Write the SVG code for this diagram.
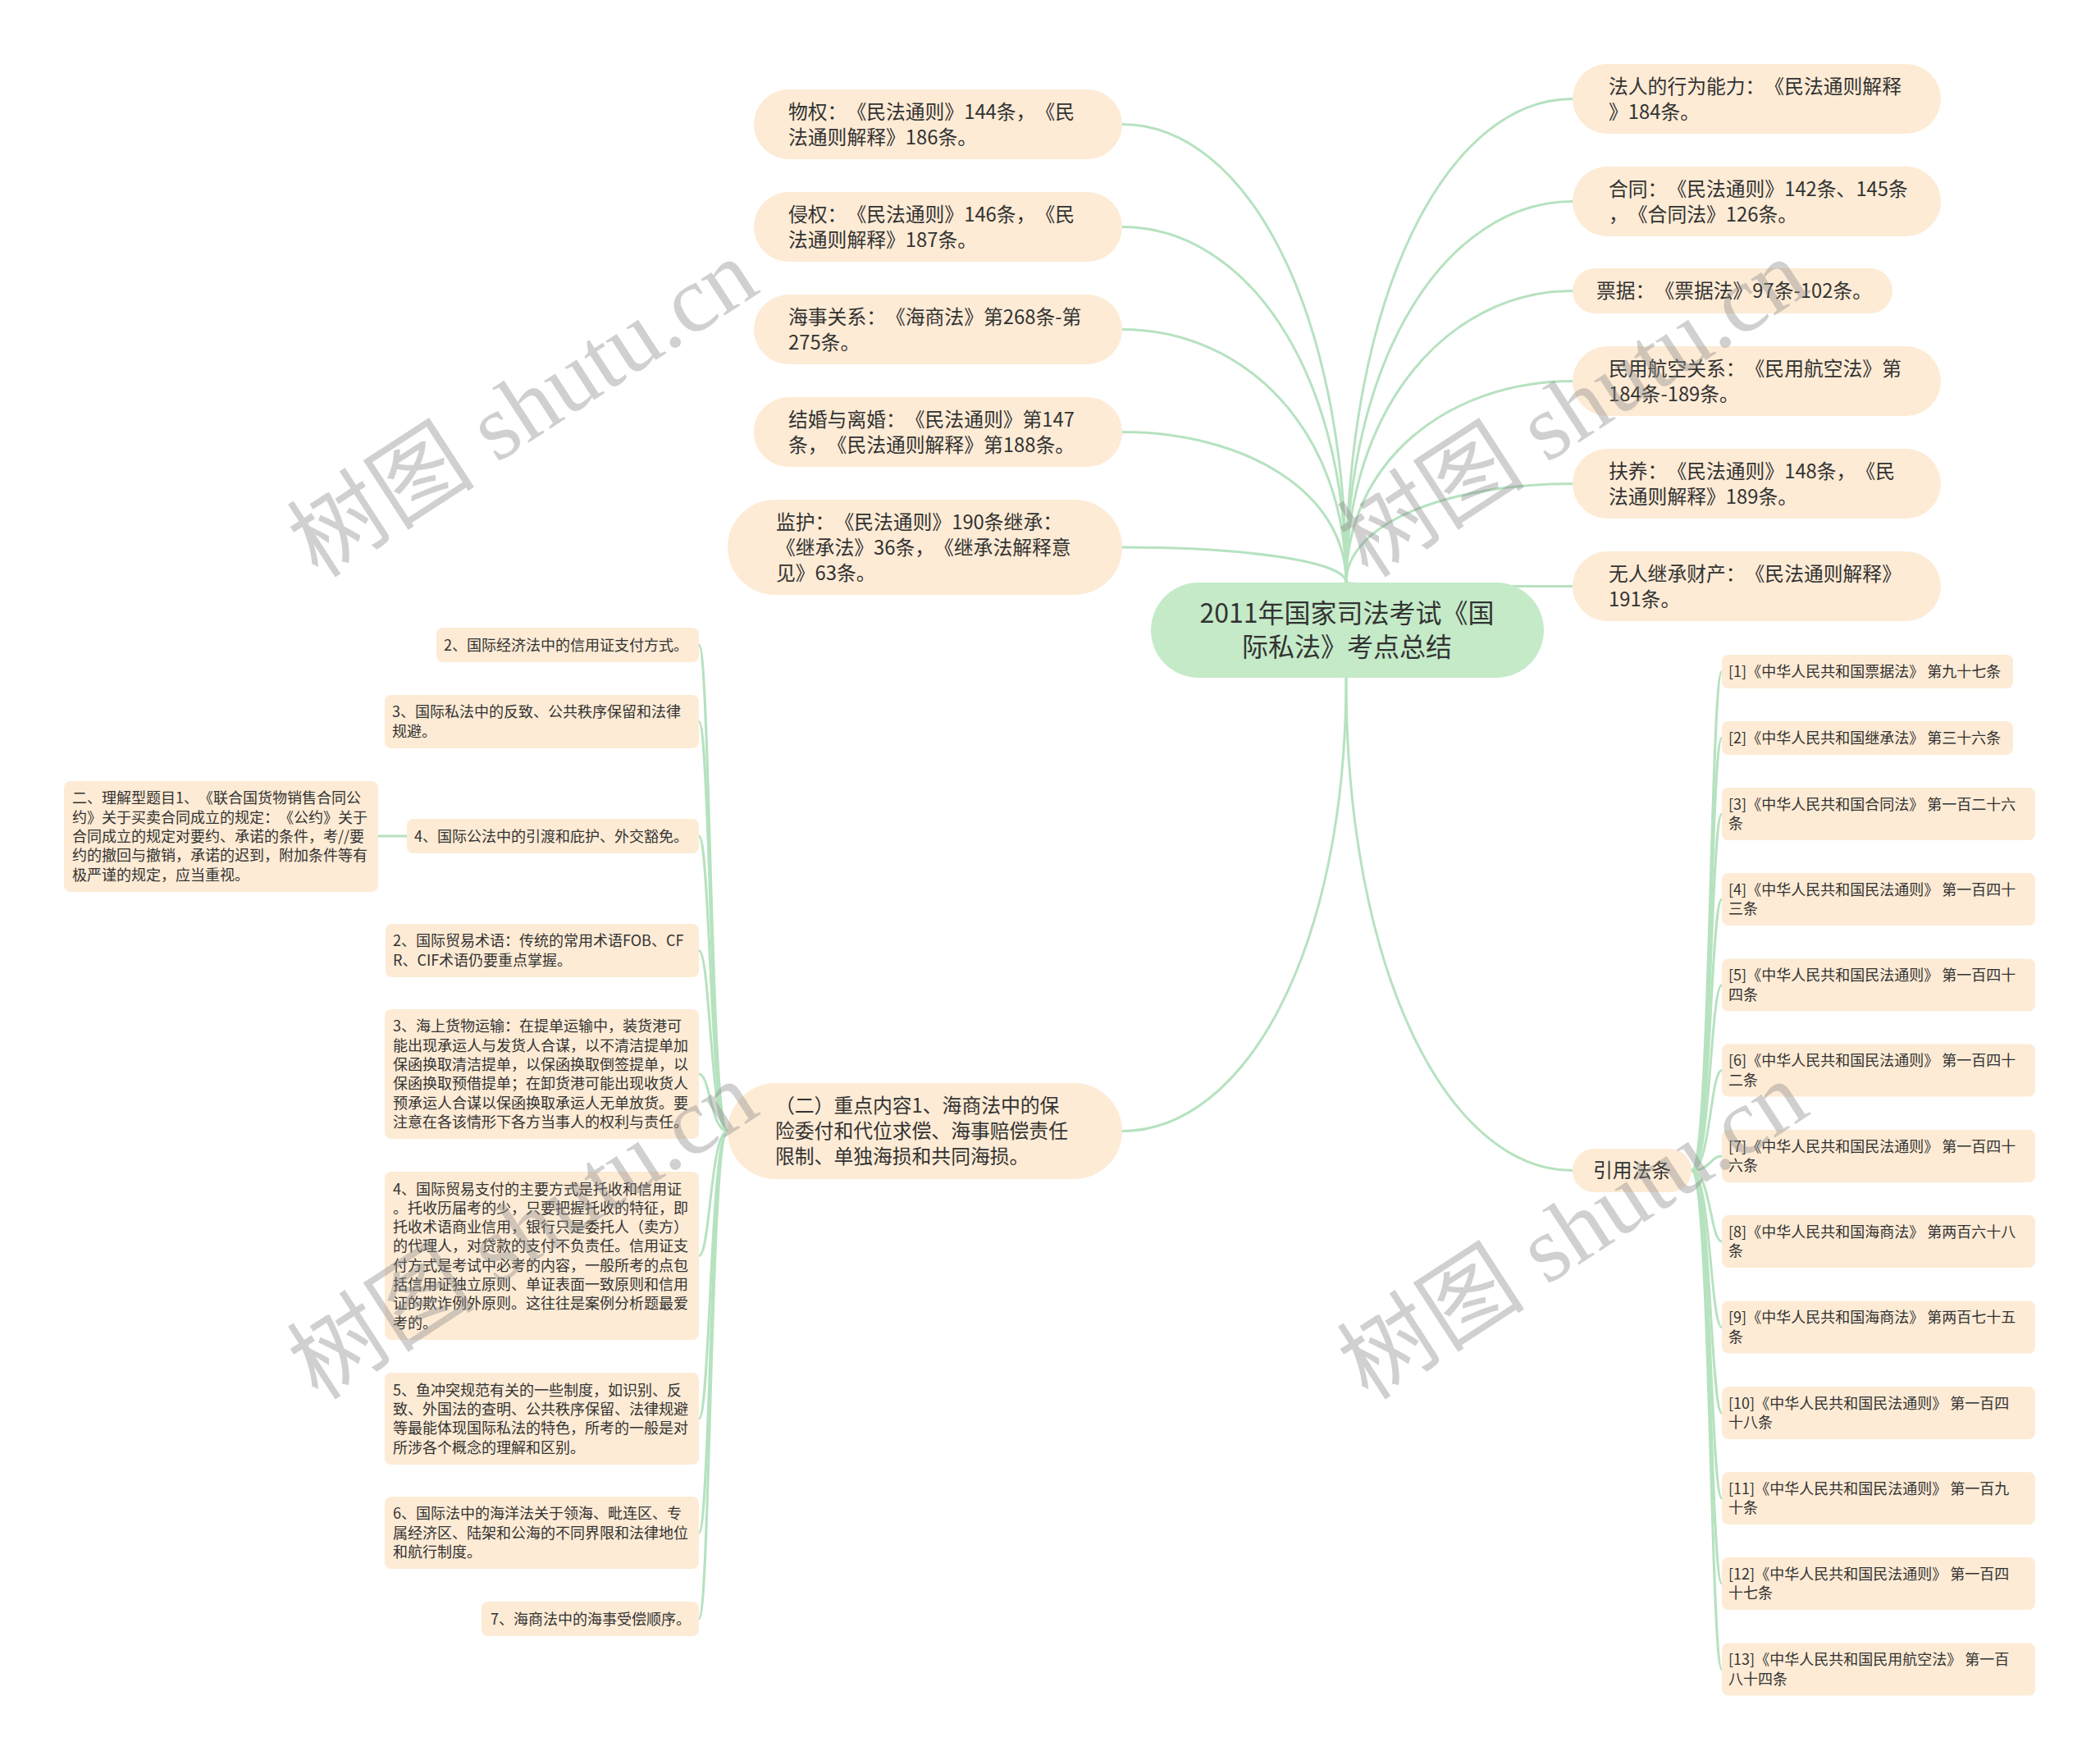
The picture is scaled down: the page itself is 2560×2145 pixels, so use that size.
<svg xmlns="http://www.w3.org/2000/svg" width="2560" height="2145" viewBox="0 0 2560 2145">
<style>
.bg{fill:#ffffff}
.n{fill:#fdebd5}
.c{fill:#c4eac8}
.e{fill:none;stroke:#b6e2bf;stroke-width:3}
text{text-spacing-trim:space-all}
.t{font-family:"Noto Sans CJK SC","Noto Sans",sans-serif;font-size:23.8px;fill:#333333}
.s{font-family:"Noto Sans CJK SC","Noto Sans",sans-serif;font-size:18px;fill:#333333}
.ct{font-family:"Noto Sans CJK SC","Noto Sans",sans-serif;font-size:32px;fill:#333333;text-anchor:middle}
.w{font-size:115px;fill:#8a8a8a;fill-opacity:0.4}
.wc{font-family:"Noto Sans CJK SC",sans-serif}
.wl{font-family:"Liberation Serif",serif}
</style>
<rect class="bg" x="0" y="0" width="2560" height="2145"/>
<g id="connectors">
<path class="e" d="M1641,710 C1641,374.9 1518,151.5 1368,151.5"/>
<path class="e" d="M1641,710 C1641,449.9 1518,276.5 1368,276.5"/>
<path class="e" d="M1641,710 C1641,524.9 1518,401.5 1368,401.5"/>
<path class="e" d="M1641,710 C1641,599.9 1518,526.5 1368,526.5"/>
<path class="e" d="M1641,710 C1641,684.2 1518,667 1368,667"/>
<path class="e" d="M1641,710 C1641,356.3 1765,120.5 1917,120.5"/>
<path class="e" d="M1641,710 C1641,431.3 1765,245.5 1917,245.5"/>
<path class="e" d="M1641,710 C1641,496.7 1765,354.5 1917,354.5"/>
<path class="e" d="M1641,710 C1641,562.7 1765,464.5 1917,464.5"/>
<path class="e" d="M1641,710 C1641,637.7 1765,589.5 1917,589.5"/>
<path class="e" d="M1641,710 C1641,712.7 1765,714.5 1917,714.5"/>
<path class="e" d="M1641,826 C1641,1157.5 1518,1378.5 1368,1378.5"/>
<path class="e" d="M1641,826 C1641,1186 1766,1426.5 1917,1426.5"/>
<path class="e" d="M887,1378.5 C866,1378.5 866,786 852,786"/>
<path class="e" d="M887,1378.5 C866,1378.5 866,879.5 852,879.5"/>
<path class="e" d="M887,1378.5 C866,1378.5 866,1019 852,1019"/>
<path class="e" d="M887,1378.5 C866,1378.5 866,1158.5 852,1158.5"/>
<path class="e" d="M887,1378.5 C866,1378.5 866,1309 852,1309"/>
<path class="e" d="M887,1378.5 C866,1378.5 866,1530.5 852,1530.5"/>
<path class="e" d="M887,1378.5 C866,1378.5 866,1729 852,1729"/>
<path class="e" d="M887,1378.5 C866,1378.5 866,1868 852,1868"/>
<path class="e" d="M887,1378.5 C866,1378.5 866,1973 852,1973"/>
<path class="e" d="M496,1019 L461,1019"/>
<path class="e" d="M2062,1426.5 C2085,1426.5 2085,818.5 2099,818.5"/>
<path class="e" d="M2062,1426.5 C2085,1426.5 2085,899.5 2099,899.5"/>
<path class="e" d="M2062,1426.5 C2085,1426.5 2085,992 2099,992"/>
<path class="e" d="M2062,1426.5 C2085,1426.5 2085,1096 2099,1096"/>
<path class="e" d="M2062,1426.5 C2085,1426.5 2085,1200.5 2099,1200.5"/>
<path class="e" d="M2062,1426.5 C2085,1426.5 2085,1304.5 2099,1304.5"/>
<path class="e" d="M2062,1426.5 C2085,1426.5 2085,1409 2099,1409"/>
<path class="e" d="M2062,1426.5 C2085,1426.5 2085,1513 2099,1513"/>
<path class="e" d="M2062,1426.5 C2085,1426.5 2085,1617.5 2099,1617.5"/>
<path class="e" d="M2062,1426.5 C2085,1426.5 2085,1722 2099,1722"/>
<path class="e" d="M2062,1426.5 C2085,1426.5 2085,1826 2099,1826"/>
<path class="e" d="M2062,1426.5 C2085,1426.5 2085,1930 2099,1930"/>
<path class="e" d="M2062,1426.5 C2085,1426.5 2085,2034.5 2099,2034.5"/>
</g>

<g id="root">
<rect class="c" x="1403" y="710" width="479" height="116" rx="58"/>
<text class="ct" x="1642" y="759">2011年国家司法考试《国</text>
<text class="ct" x="1642" y="800">际私法》考点总结</text>
</g>

<g id="n-wuquan">
<rect class="n" x="919" y="109" width="449" height="85" rx="42.5"/>
<text class="t" x="961" y="144.5">物权：《民法通则》144条，《民</text>
<text class="t" x="961" y="175.5">法通则解释》186条。</text>
</g>
<g id="n-qinquan">
<rect class="n" x="919" y="234" width="449" height="85" rx="42.5"/>
<text class="t" x="961" y="269.5">侵权：《民法通则》146条，《民</text>
<text class="t" x="961" y="300.5">法通则解释》187条。</text>
</g>
<g id="n-haishi">
<rect class="n" x="919" y="359" width="449" height="85" rx="42.5"/>
<text class="t" x="961" y="394.5">海事关系：《海商法》第268条-第</text>
<text class="t" x="961" y="425.5">275条。</text>
</g>
<g id="n-jiehun">
<rect class="n" x="919" y="484" width="449" height="85" rx="42.5"/>
<text class="t" x="961" y="519.5">结婚与离婚：《民法通则》第147</text>
<text class="t" x="961" y="550.5">条，《民法通则解释》第188条。</text>
</g>
<g id="n-jianhu">
<rect class="n" x="887" y="609" width="481" height="116" rx="58"/>
<text class="t" x="946" y="644.5">监护：《民法通则》190条继承：</text>
<text class="t" x="946" y="675.5">《继承法》36条，《继承法解释意</text>
<text class="t" x="946" y="706.5">见》63条。</text>
</g>

<g id="n-faren">
<rect class="n" x="1917" y="78" width="449" height="85" rx="42.5"/>
<text class="t" x="1961" y="113.5">法人的行为能力：《民法通则解释</text>
<text class="t" x="1961" y="144.5">》184条。</text>
</g>
<g id="n-hetong">
<rect class="n" x="1917" y="203" width="449" height="85" rx="42.5"/>
<text class="t" x="1961" y="238.5">合同：《民法通则》142条、145条</text>
<text class="t" x="1961" y="269.5">，《合同法》126条。</text>
</g>
<g id="n-piaoju">
<rect class="n" x="1917" y="327" width="390" height="55" rx="27.5"/>
<text class="t" x="1946" y="363">票据：《票据法》97条-102条。</text>
</g>
<g id="n-minhang">
<rect class="n" x="1917" y="422" width="449" height="85" rx="42.5"/>
<text class="t" x="1961" y="457.5">民用航空关系：《民用航空法》第</text>
<text class="t" x="1961" y="488.5">184条-189条。</text>
</g>
<g id="n-fuyang">
<rect class="n" x="1917" y="547" width="449" height="85" rx="42.5"/>
<text class="t" x="1961" y="582.5">扶养：《民法通则》148条，《民</text>
<text class="t" x="1961" y="613.5">法通则解释》189条。</text>
</g>
<g id="n-wuren">
<rect class="n" x="1917" y="672" width="449" height="85" rx="42.5"/>
<text class="t" x="1961" y="707.5">无人继承财产：《民法通则解释》</text>
<text class="t" x="1961" y="738.5">191条。</text>
</g>

<g id="n-zhongdian">
<rect class="n" x="887" y="1320" width="481" height="117" rx="58.5"/>
<text class="t" x="945" y="1356">（二）重点内容1、海商法中的保</text>
<text class="t" x="945" y="1387">险委付和代位求偿、海事赔偿责任</text>
<text class="t" x="945" y="1418">限制、单独海损和共同海损。</text>
</g>

<g id="n-a">
<rect class="n" x="532" y="765" width="320" height="42" rx="8"/>
<text class="s" x="541" y="792.5">2、国际经济法中的信用证支付方式。</text>
</g>
<g id="n-b">
<rect class="n" x="469" y="847" width="383" height="65" rx="8"/>
<text class="s" x="478" y="874.4">3、国际私法中的反致、公共秩序保留和法律</text>
<text class="s" x="478" y="897.7">规避。</text>
</g>
<g id="n-c">
<rect class="n" x="496" y="998" width="356" height="42" rx="8"/>
<text class="s" x="505" y="1025.5">4、国际公法中的引渡和庇护、外交豁免。</text>
</g>
<g id="n-d">
<rect class="n" x="78" y="952" width="383" height="135" rx="8"/>
<text class="s" x="88" y="979.4">二、理解型题目1、《联合国货物销售合同公</text>
<text class="s" x="88" y="1002.7">约》关于买卖合同成立的规定：《公约》关于</text>
<text class="s" x="88" y="1026">合同成立的规定对要约、承诺的条件，考//要</text>
<text class="s" x="88" y="1049.3">约的撤回与撤销，承诺的迟到，附加条件等有</text>
<text class="s" x="88" y="1072.6">极严谨的规定，应当重视。</text>
</g>
<g id="n-e">
<rect class="n" x="470" y="1126" width="382" height="65" rx="8"/>
<text class="s" x="479" y="1153.4">2、国际贸易术语：传统的常用术语FOB、CF</text>
<text class="s" x="479" y="1176.7">R、CIF术语仍要重点掌握。</text>
</g>
<g id="n-f">
<rect class="n" x="469" y="1230" width="383" height="158" rx="8"/>
<text class="s" x="479" y="1257.3">3、海上货物运输：在提单运输中，装货港可</text>
<text class="s" x="479" y="1280.6">能出现承运人与发货人合谋，以不清洁提单加</text>
<text class="s" x="479" y="1303.9">保函换取清洁提单，以保函换取倒签提单，以</text>
<text class="s" x="479" y="1327.2">保函换取预借提单；在卸货港可能出现收货人</text>
<text class="s" x="479" y="1350.5">预承运人合谋以保函换取承运人无单放货。要</text>
<text class="s" x="479" y="1373.8">注意在各该情形下各方当事人的权利与责任。</text>
</g>
<g id="n-g">
<rect class="n" x="469" y="1428" width="383" height="205" rx="8"/>
<text class="s" x="479" y="1455.5">4、国际贸易支付的主要方式是托收和信用证</text>
<text class="s" x="479" y="1478.8">。托收历届考的少，只要把握托收的特征，即</text>
<text class="s" x="479" y="1502.1">托收术语商业信用，银行只是委托人（卖方）</text>
<text class="s" x="479" y="1525.4">的代理人，对贷款的支付不负责任。信用证支</text>
<text class="s" x="479" y="1548.7">付方式是考试中必考的内容，一般所考的点包</text>
<text class="s" x="479" y="1572">括信用证独立原则、单证表面一致原则和信用</text>
<text class="s" x="479" y="1595.3">证的欺诈例外原则。这往往是案例分析题最爱</text>
<text class="s" x="479" y="1618.6">考的。</text>
</g>
<g id="n-h">
<rect class="n" x="469" y="1673" width="383" height="112" rx="8"/>
<text class="s" x="479" y="1700.6">5、鱼冲突规范有关的一些制度，如识别、反</text>
<text class="s" x="479" y="1723.9">致、外国法的查明、公共秩序保留、法律规避</text>
<text class="s" x="479" y="1747.2">等最能体现国际私法的特色，所考的一般是对</text>
<text class="s" x="479" y="1770.5">所涉各个概念的理解和区别。</text>
</g>
<g id="n-i">
<rect class="n" x="469" y="1824" width="383" height="88" rx="8"/>
<text class="s" x="479" y="1851.2">6、国际法中的海洋法关于领海、毗连区、专</text>
<text class="s" x="479" y="1874.5">属经济区、陆架和公海的不同界限和法律地位</text>
<text class="s" x="479" y="1897.8">和航行制度。</text>
</g>
<g id="n-j">
<rect class="n" x="587" y="1952" width="265" height="42" rx="8"/>
<text class="s" x="598" y="1979.5">7、海商法中的海事受偿顺序。</text>
</g>

<g id="n-yinyong">
<rect class="n" x="1917" y="1400" width="145" height="53" rx="26.5"/>
<text class="t" x="1989.5" y="1435" text-anchor="middle">引用法条</text>
</g>

<g id="r1"><rect class="n" x="2099" y="798" width="355" height="41" rx="8"/><text class="s" x="2107" y="825">[1]《中华人民共和国票据法》 第九十七条</text></g>
<g id="r2"><rect class="n" x="2099" y="879" width="355" height="41" rx="8"/><text class="s" x="2107" y="906">[2]《中华人民共和国继承法》 第三十六条</text></g>
<g id="r3"><rect class="n" x="2099" y="960" width="382" height="64" rx="8"/><text class="s" x="2107" y="986.9">[3]《中华人民共和国合同法》 第一百二十六</text><text class="s" x="2107" y="1010.2">条</text></g>
<g id="r4"><rect class="n" x="2099" y="1064" width="382" height="64" rx="8"/><text class="s" x="2107" y="1090.9">[4]《中华人民共和国民法通则》 第一百四十</text><text class="s" x="2107" y="1114.2">三条</text></g>
<g id="r5"><rect class="n" x="2099" y="1168.5" width="382" height="64" rx="8"/><text class="s" x="2107" y="1195.4">[5]《中华人民共和国民法通则》 第一百四十</text><text class="s" x="2107" y="1218.7">四条</text></g>
<g id="r6"><rect class="n" x="2099" y="1272.5" width="382" height="64" rx="8"/><text class="s" x="2107" y="1299.4">[6]《中华人民共和国民法通则》 第一百四十</text><text class="s" x="2107" y="1322.7">二条</text></g>
<g id="r7"><rect class="n" x="2099" y="1377" width="382" height="64" rx="8"/><text class="s" x="2107" y="1403.9">[7]《中华人民共和国民法通则》 第一百四十</text><text class="s" x="2107" y="1427.2">六条</text></g>
<g id="r8"><rect class="n" x="2099" y="1481" width="382" height="64" rx="8"/><text class="s" x="2107" y="1507.9">[8]《中华人民共和国海商法》 第两百六十八</text><text class="s" x="2107" y="1531.2">条</text></g>
<g id="r9"><rect class="n" x="2099" y="1585.5" width="382" height="64" rx="8"/><text class="s" x="2107" y="1612.4">[9]《中华人民共和国海商法》 第两百七十五</text><text class="s" x="2107" y="1635.7">条</text></g>
<g id="r10"><rect class="n" x="2099" y="1690" width="382" height="64" rx="8"/><text class="s" x="2107" y="1716.9">[10]《中华人民共和国民法通则》 第一百四</text><text class="s" x="2107" y="1740.2">十八条</text></g>
<g id="r11"><rect class="n" x="2099" y="1794" width="382" height="64" rx="8"/><text class="s" x="2107" y="1820.9">[11]《中华人民共和国民法通则》 第一百九</text><text class="s" x="2107" y="1844.2">十条</text></g>
<g id="r12"><rect class="n" x="2099" y="1898" width="382" height="64" rx="8"/><text class="s" x="2107" y="1924.9">[12]《中华人民共和国民法通则》 第一百四</text><text class="s" x="2107" y="1948.2">十七条</text></g>
<g id="r13"><rect class="n" x="2099" y="2002.5" width="382" height="64" rx="8"/><text class="s" x="2107" y="2029.4">[13]《中华人民共和国民用航空法》 第一百</text><text class="s" x="2107" y="2052.7">八十四条</text></g>

<g id="watermark" class="w">
<text x="388" y="706" transform="rotate(-33 388 706)"><tspan class="wc">树图</tspan><tspan class="wl"> shutu.cn</tspan></text>
<text x="1668" y="706" transform="rotate(-33 1668 706)"><tspan class="wc">树图</tspan><tspan class="wl"> shutu.cn</tspan></text>
<text x="388" y="1708" transform="rotate(-33 388 1708)"><tspan class="wc">树图</tspan><tspan class="wl"> shutu.cn</tspan></text>
<text x="1668" y="1708" transform="rotate(-33 1668 1708)"><tspan class="wc">树图</tspan><tspan class="wl"> shutu.cn</tspan></text>
</g>
</svg>
